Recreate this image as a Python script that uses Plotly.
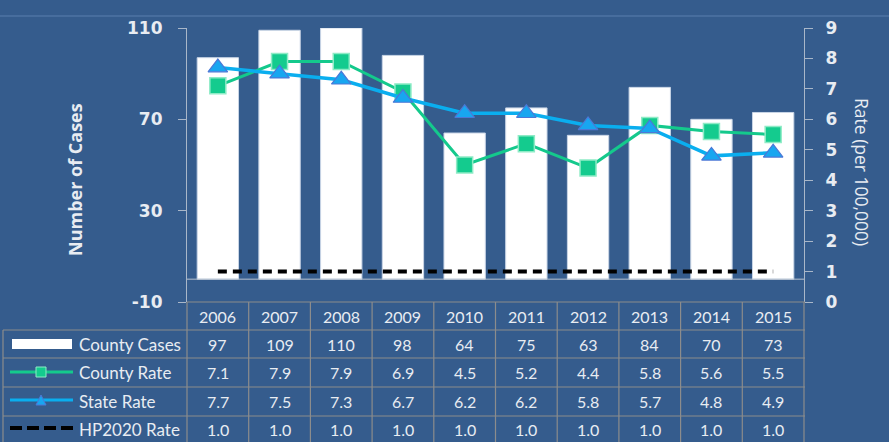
import plotly.graph_objects as go

years = ["2006", "2007", "2008", "2009", "2010", "2011", "2012", "2013", "2014", "2015"]
county_cases = [97, 109, 110, 98, 64, 75, 63, 84, 70, 73]
county_rate = [7.1, 7.9, 7.9, 6.9, 4.5, 5.2, 4.4, 5.8, 5.6, 5.5]
state_rate = [7.7, 7.5, 7.3, 6.7, 6.2, 6.2, 5.8, 5.7, 4.8, 4.9]
hp2020_rate = [1.0] * 10
row_names = ["County Cases", "County Rate", "State Rate", "HP2020 Rate"]
cases_ticks = [-10, 30, 70, 110]
cases_tick_labels = ["-10", "30", "70", "110"]

BG = "#355C8D"
GRID = "#8C8C8C"
TXT = "#E8ECF2"
W, H = 889, 442
L, R, T, B = 187, 85, 28, 140
PW = W - L - R
PH = H - T - B

def px(x):
    return (x - L) / PW

def py(y):
    return (H - B - y) / PH

fig = go.Figure()
fig.add_trace(go.Bar(x=years, y=county_cases,
                     marker=dict(color="white", line=dict(width=1, color="#C9D5E6")),
                     name="County Cases", yaxis="y"))
fig.add_trace(go.Scatter(x=years, y=county_rate, yaxis="y2", mode="lines+markers",
                         line=dict(color="#14C98C", width=3),
                         marker=dict(symbol="square", size=16, color="#14CB8E",
                                     line=dict(color="#8EEBC6", width=1.5)),
                         name="County Rate"))
fig.add_trace(go.Scatter(x=years, y=state_rate, yaxis="y2", mode="lines+markers",
                         line=dict(color="#0AAEEF", width=3.5),
                         marker=dict(symbol="triangle-up", size=17, color="#18A6F0",
                                     line=dict(color="#4C78D6", width=1.2)),
                         name="State Rate"))
fig.add_trace(go.Scatter(x=years, y=hp2020_rate, yaxis="y2", mode="lines",
                         line=dict(color="black", width=4, dash="9px,6px"),
                         name="HP2020 Rate"))

shapes = []
ann = []

# top border line
shapes.append(dict(type="line", xref="paper", yref="paper", x0=px(0), x1=px(W), y0=py(16), y1=py(16),
                   line=dict(color="#5B7FAE", width=1)))
# zero line of cases axis
shapes.append(dict(type="line", xref="paper", yref="y", x0=0, x1=1, y0=0, y1=0,
                   line=dict(color="#B8C3D1", width=1)))

# table grid
row_lines = [302, 330, 358, 387, 416]
for i, yv in enumerate(row_lines):
    x0 = L if i == 0 else 3
    shapes.append(dict(type="line", xref="paper", yref="paper", x0=px(x0), x1=px(805),
                       y0=py(yv), y1=py(yv), line=dict(color=GRID, width=1.2)))
shapes.append(dict(type="line", xref="paper", yref="paper", x0=px(3), x1=px(3),
                   y0=py(330), y1=py(445), line=dict(color=GRID, width=1.2)))
col_w = PW / len(years)
for k in range(len(years) + 1):
    xv = L + k * col_w
    shapes.append(dict(type="line", xref="paper", yref="paper", x0=px(xv), x1=px(xv),
                       y0=py(302), y1=py(445), line=dict(color=GRID, width=1.2)))

# legend keys
shapes.append(dict(type="rect", xref="paper", yref="paper", x0=px(12), x1=px(72), y0=py(349), y1=py(339),
                   fillcolor="white", line=dict(width=0)))
shapes.append(dict(type="line", xref="paper", yref="paper", x0=px(10), x1=px(73), y0=py(372), y1=py(372),
                   line=dict(color="#14C98C", width=3)))
shapes.append(dict(type="rect", xref="paper", yref="paper", x0=px(36), x1=px(46), y0=py(377), y1=py(367),
                   fillcolor="#14CB8E", line=dict(color="#8EEBC6", width=1)))
shapes.append(dict(type="line", xref="paper", yref="paper", x0=px(10), x1=px(73), y0=py(400), y1=py(400),
                   line=dict(color="#0AAEEF", width=3)))
shapes.append(dict(type="path", xref="paper", yref="paper",
                   path=f"M {px(36)} {py(405)} L {px(46)} {py(405)} L {px(41)} {py(395)} Z",
                   fillcolor="#18A6F0", line=dict(color="#4C78D6", width=1)))
shapes.append(dict(type="line", xref="paper", yref="paper", x0=px(10), x1=px(73), y0=py(428), y1=py(428),
                   line=dict(color="black", width=4, dash="12px,5px")))

font_t = dict(family="Lato, Open Sans, sans-serif", size=16, color=TXT)
# header years
for i, yr in enumerate(years):
    ann.append(dict(x=i, xref="x", y=py(316), yref="paper", text=yr, showarrow=False, font=font_t,
                    xanchor="center", yanchor="middle"))
row_centers = [344, 372, 401, 429]
rows = [[str(v) for v in county_cases], [f"{v:.1f}" for v in county_rate],
        [f"{v:.1f}" for v in state_rate], [f"{v:.1f}" for v in hp2020_rate]]
for name, yc, vals in zip(row_names, row_centers, rows):
    ann.append(dict(x=px(77), xref="paper", y=py(yc), yref="paper", text=name, showarrow=False,
                    xanchor="left", yanchor="middle",
                    font=dict(family="Lato, Open Sans, sans-serif", size=17, color=TXT)))
    for i, v in enumerate(vals):
        ann.append(dict(x=i, xref="x", y=py(yc), yref="paper", text=v, showarrow=False, font=font_t,
                        xanchor="center", yanchor="middle"))

# axis titles
ann.append(dict(x=px(75), xref="paper", y=py(180), yref="paper", text="Number of Cases", textangle=-90,
                showarrow=False, xanchor="center", yanchor="middle",
                font=dict(family="Open Sans, sans-serif", size=18, color=TXT, weight="bold")))
ann.append(dict(x=px(862), xref="paper", y=py(172), yref="paper", text="Rate (per 100,000)", textangle=90,
                showarrow=False, xanchor="center", yanchor="middle",
                font=dict(family="Open Sans, sans-serif", size=17.5, color=TXT)))

tickfont = dict(family="DejaVu Sans, sans-serif", size=17, color=TXT, weight="bold")
fig.update_layout(
    width=W, height=H,
    margin=dict(l=L, r=R, t=T, b=B),
    paper_bgcolor=BG, plot_bgcolor=BG,
    showlegend=False,
    bargap=0.33,
    xaxis=dict(type="category", range=[-0.5, 9.5], showticklabels=False, showline=False,
               showgrid=False, zeroline=False, ticks=""),
    yaxis=dict(range=[-10, 110], tickvals=cases_ticks, ticktext=cases_tick_labels,
               showgrid=False, zeroline=False,
               showline=True, linecolor="#A9B7C9", linewidth=1.2, ticks="outside", ticklen=8,
               tickcolor="#A9B7C9", tickfont=tickfont, ticklabelstandoff=12),
    yaxis2=dict(range=[0, 9], dtick=1, overlaying="y", side="right", showgrid=False, zeroline=False,
                showline=True, linecolor="#A9B7C9", linewidth=1.2, ticks="outside", ticklen=8,
                tickcolor="#A9B7C9", tickfont=tickfont, ticklabelstandoff=9),
    shapes=shapes,
    annotations=ann,
)
fig.write_html("out.html", config={"displayModeBar": False},
               post_script="document.body.style.margin='0';document.body.style.overflow='hidden';")
